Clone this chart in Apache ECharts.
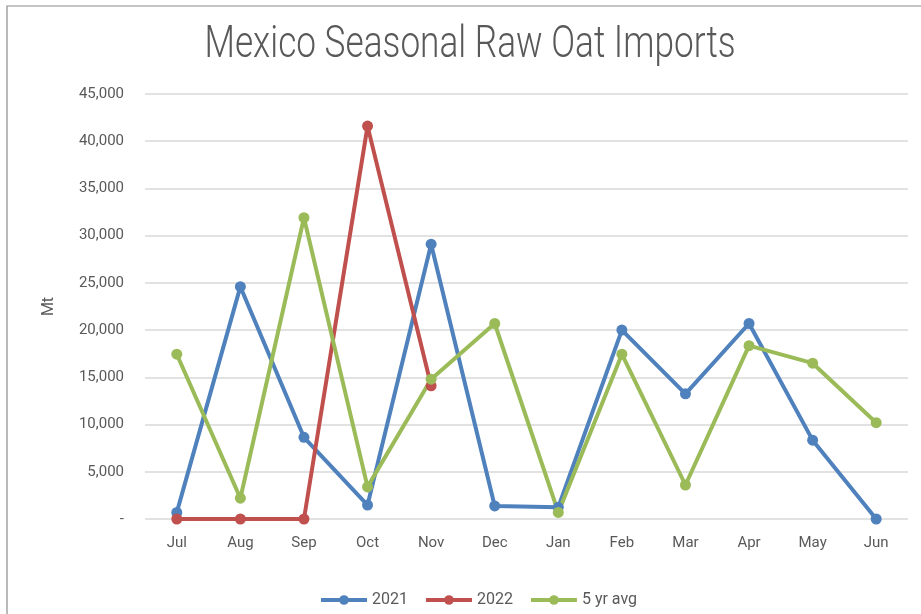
<!DOCTYPE html>
<html>
<head>
<meta charset="utf-8">
<script src="https://cdn.jsdelivr.net/npm/echarts@6/dist/echarts.min.js"></script>
<style>
  html, body { margin: 0; padding: 0; background: #fff; }
  #main { width: 921px; height: 614px; }
</style>
</head>
<body>
<div id="main"></div>
<script>
// months of the marketing year
var months = ['Jul', 'Aug', 'Sep', 'Oct', 'Nov', 'Dec', 'Jan', 'Feb', 'Mar', 'Apr', 'May', 'Jun'];
// imports in Mt
var y2021 = [700, 24600, 8650, 1480, 29100, 1380, 1240, 20000, 13250, 20700, 8350, 0];
var y2022 = [0, 0, 0, 41600, 14100, null, null, null, null, null, null, null];
var avg5 = [17450, 2200, 31900, 3400, 14800, 20700, 700, 17450, 3600, 18350, 16500, 10200];

var chart = echarts.init(document.getElementById('main'));
var txt = '#595959';
var font = 'Roboto, sans-serif';

function mkSeries(name, data, color) {
  return {
    name: name,
    type: 'line',
    data: data,
    symbol: 'circle',
    symbolSize: 11,
    connectNulls: false,
    lineStyle: { width: 4, color: color },
    itemStyle: { color: color },
    emphasis: { disabled: true }
  };
}

chart.setOption({
  animation: false,
  textStyle: { fontFamily: font },
  graphic: [{
    type: 'rect',
    shape: { x: 7, y: 6, width: 930, height: 620 },
    style: { fill: null, stroke: '#8c8c8c', lineWidth: 1.2 },
    silent: true
  }, {
    // chart title, squeezed to look like the narrow original face
    type: 'text',
    x: 470,
    y: 46,
    scaleX: 0.8,
    silent: true,
    style: {
      text: 'Mexico Seasonal Raw Oat Imports',
      font: '300 44px Roboto, sans-serif',
      fill: txt,
      align: 'center',
      verticalAlign: 'middle'
    }
  }],
  legend: {
    bottom: 1,
    left: 314,
    itemWidth: 46,
    itemHeight: 12,
    itemGap: 16,
    lineStyle: { width: 4 },
    textStyle: { fontFamily: font, fontSize: 16, color: txt },
    data: ['2021', '2022', '5 yr avg']
  },
  grid: { left: 145, right: 13, top: 94, bottom: 95, containLabel: false },
  xAxis: {
    type: 'category',
    data: months,
    boundaryGap: true,
    axisLine: { show: false },
    axisTick: { show: false },
    axisLabel: { color: txt, fontSize: 15, fontFamily: font, margin: 17 }
  },
  yAxis: {
    type: 'value',
    min: 0,
    max: 45000,
    interval: 5000,
    name: 'Mt',
    nameLocation: 'middle',
    nameGap: 88,
    nameRotate: 90,
    nameTextStyle: { color: txt, fontSize: 16, fontFamily: font },
    axisLine: { show: false },
    axisTick: { show: false },
    splitLine: { lineStyle: { color: '#d9d9d9', width: 1.5 } },
    axisLabel: {
      color: txt, fontSize: 15, fontFamily: font, margin: 21,
      formatter: function (v) { return v === 0 ? '-' : v.toLocaleString('en-US'); }
    }
  },
  series: [
    mkSeries('2021', y2021, '#4F81BD'),
    mkSeries('2022', y2022, '#C0504D'),
    mkSeries('5 yr avg', avg5, '#9BBB59')
  ]
});
</script>
</body>
</html>
